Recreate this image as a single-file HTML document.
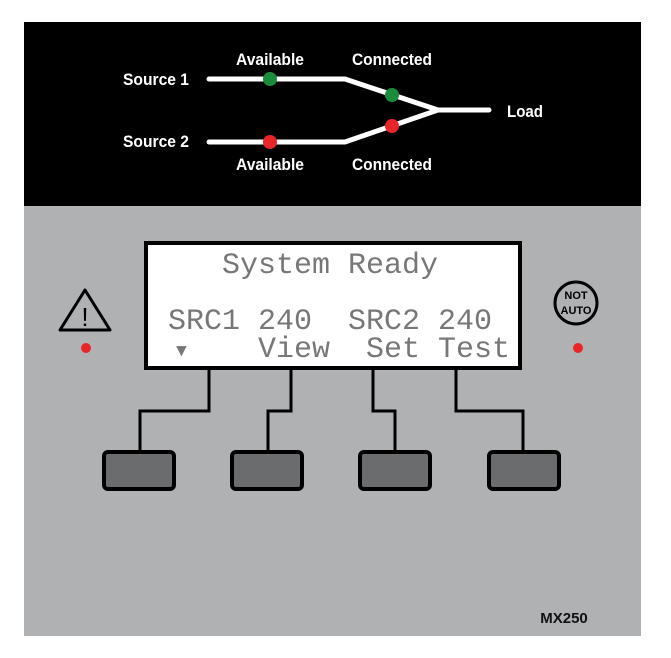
<!DOCTYPE html><html><head><style>body{margin:0;background:#fff}svg{display:block}text{white-space:pre}</style></head><body>
<svg width="671" height="658" xmlns="http://www.w3.org/2000/svg" font-family="Liberation Sans, sans-serif">
<rect x="24" y="22" width="617" height="184" fill="#000"/>
<rect x="24" y="206" width="617" height="430" fill="#b0b1b3"/>
<g stroke="#fff" stroke-width="5" fill="none" stroke-linecap="round" stroke-linejoin="round">
<polyline points="209,79 345,79 438,110 489,110"/>
<polyline points="209,142 345,142 438,110"/>
</g>
<circle cx="270" cy="79" r="7" fill="#1a8d3c"/><circle cx="392" cy="95" r="7" fill="#1a8d3c"/>
<circle cx="392" cy="126" r="7" fill="#e8262a"/><circle cx="270" cy="142" r="7" fill="#e8262a"/>
<g fill="#fff" font-weight="bold" font-size="17" text-anchor="middle">
<text x="156" y="85" textLength="66" lengthAdjust="spacingAndGlyphs">Source 1</text><text x="156" y="147" textLength="66" lengthAdjust="spacingAndGlyphs">Source 2</text>
<text x="270" y="65" textLength="68" lengthAdjust="spacingAndGlyphs">Available</text><text x="392" y="65" textLength="80" lengthAdjust="spacingAndGlyphs">Connected</text>
<text x="270" y="170" textLength="68" lengthAdjust="spacingAndGlyphs">Available</text><text x="392" y="170" textLength="80" lengthAdjust="spacingAndGlyphs">Connected</text>
<text x="525" y="117" textLength="36" lengthAdjust="spacingAndGlyphs">Load</text></g>
<rect x="146" y="243" width="374" height="125" fill="#fff" stroke="#000" stroke-width="4"/>
<g font-family="Liberation Mono, monospace" font-size="30" fill="#777">
<text x="222" y="273">System Ready</text>
<text x="168" y="329">SRC1 240  SRC2 240</text>
<text x="168" y="357">     View  Set Test</text>
<text x="176" y="356" font-size="18">▼</text></g>
<g stroke="#000" stroke-width="3" fill="none">
<polyline points="209,369 209,411 140,411 140,452"/>
<polyline points="291,369 291,411 268,411 268,452"/>
<polyline points="373,369 373,411 395,411 395,452"/>
<polyline points="456,369 456,411 523,411 523,452"/></g>
<g fill="#6b6c6e" stroke="#000" stroke-width="4">
<rect x="104" y="452" width="70" height="37" rx="4"/><rect x="232" y="452" width="70" height="37" rx="4"/>
<rect x="360" y="452" width="70" height="37" rx="4"/><rect x="489" y="452" width="70" height="37" rx="4"/></g>
<polygon points="85,290 110,330 60,330" fill="none" stroke="#000" stroke-width="3" stroke-linejoin="round"/>
<text x="85" y="326" font-size="26" text-anchor="middle">!</text>
<circle cx="86" cy="348" r="5" fill="#e8262a"/>
<circle cx="576" cy="303" r="21" fill="none" stroke="#000" stroke-width="3"/>
<text x="576" y="299" font-size="11" font-weight="bold" text-anchor="middle">NOT</text>
<text x="576" y="314" font-size="11" font-weight="bold" text-anchor="middle">AUTO</text>
<circle cx="578" cy="348" r="5" fill="#e8262a"/>
<text x="564" y="623" font-size="15" font-weight="bold" fill="#111" text-anchor="middle">MX250</text>
</svg></body></html>
